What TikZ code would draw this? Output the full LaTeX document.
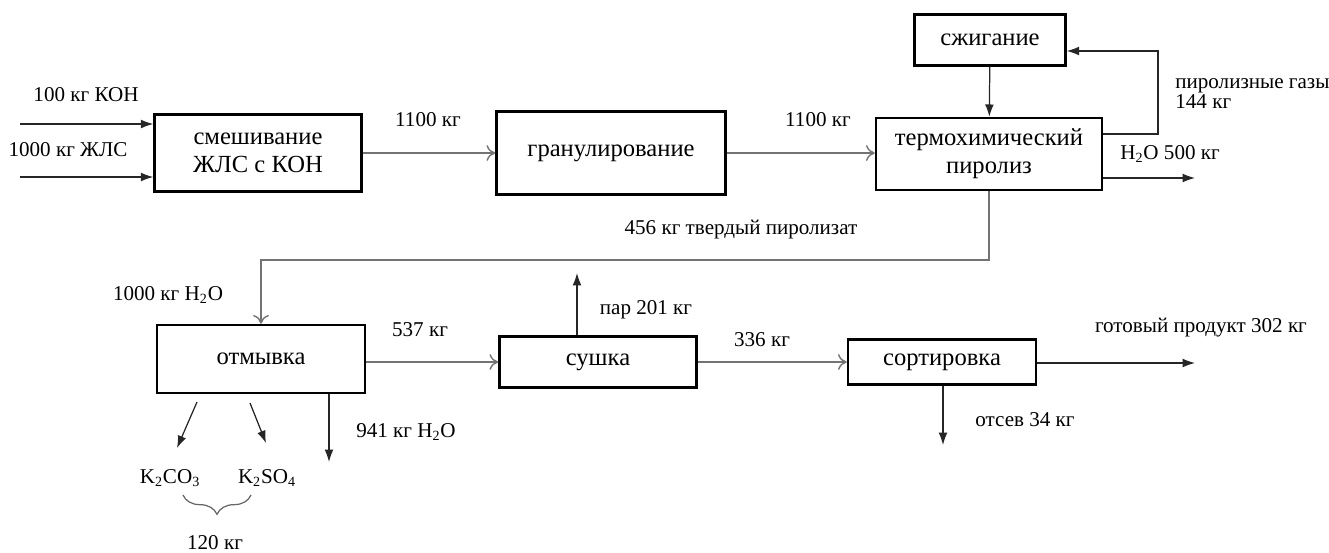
\documentclass[tikz,border=0pt]{standalone}
\usepackage{fontspec}
\setmainfont{Liberation Serif}
\usetikzlibrary{arrows.meta,decorations.pathreplacing}

\begin{document}
\begin{tikzpicture}[x=0.02cm,y=-0.02cm,
  box/.style={draw,line width=1.4pt,align=center,inner sep=0pt,font=\fontsize{14}{16}\selectfont},
  lbl/.style={inner sep=0pt,font=\fontsize{12}{14}\selectfont},
  flow/.style={draw=black!55,line width=0.8pt,-{To[length=5pt,width=9pt]}},
  outflow/.style={draw=black!85,line width=0.7pt,-{Latex[length=7pt,width=5pt]}}]
\useasboundingbox (0,0) rectangle (1329,552);
% process blocks
\node[box,minimum width=4.14cm,minimum height=1.54cm] (mix) at (258,153) {смешивание\\ЖЛС с КОН};
\node[box,minimum width=4.58cm,minimum height=1.66cm] (gran) at (611,153) {гранулирование};
\node[box,minimum width=4.52cm,minimum height=1.44cm] (pyro) at (989,154) {термохимический\\пиролиз};
\node[box,minimum width=3.02cm,minimum height=1.02cm] (burn) at (990,40) {сжигание};
\node[box,minimum width=4.16cm,minimum height=1.36cm] (wash) at (261,359) {отмывка};
\node[box,minimum width=3.94cm,minimum height=1.02cm] (dry) at (598,362) {сушка};
\node[box,minimum width=3.76cm,minimum height=0.9cm] (sort) at (942,362) {сортировка};
% free ends
\coordinate (koh) at (20,124);
\coordinate (jls) at (20,177);
\coordinate (gasturn) at (1158,51);
\coordinate (waterout) at (1195,178);
\coordinate (solidturn) at (261,260);
\coordinate (steam) at (577,273);
\coordinate (product) at (1195,363);
\coordinate (screen) at (943,445);
\coordinate (salt1a) at (197,402);
\coordinate (salt1b) at (177,448);
\coordinate (salt2a) at (250,403);
\coordinate (salt2b) at (266,443);
\coordinate (washwater) at (329,462);
% connectors
\draw[outflow] (koh) -- (mix.west |- koh);
\draw[outflow] (jls) -- (mix.west |- jls);
\draw[flow] (mix) -- (gran);
\draw[flow] (gran.east) -- (pyro.west |- gran.east);
\draw[outflow] (burn) -- (pyro);
\draw[outflow] ([yshift=0.4cm]pyro.east) -| (gasturn) -- (burn.east |- gasturn);
\draw[outflow] (pyro.east |- waterout) -- (waterout);
\draw[flow] (pyro.south) |- (solidturn) -- (wash.north);
\draw[flow] (wash.east |- dry.west) -- (dry.west);
\draw[outflow] (dry.north -| steam) -- (steam);
\draw[flow] (dry) -- (sort);
\draw[outflow] (sort.east |- product) -- (product);
\draw[outflow] (sort.south -| screen) -- (screen);
\draw[outflow] (salt1a) -- (salt1b);
\draw[outflow] (salt2a) -- (salt2b);
\draw[outflow] (wash.south -| washwater) -- (washwater);
% labels
\node[lbl] (lkoh) at (86,95) {100 кг КОН};
\node[lbl] (ljls) at (68,150) {1000 кг ЖЛС};
\node[lbl] (lmix) at (428,120) {1100 кг};
\node[lbl] (lgran) at (818,120) {1100 кг};
\node[lbl,anchor=west] (lgas) at (1175,86) {пиролизные газы};
\node[lbl,anchor=west] (lgasm) at (1175,102) {144 кг};
\node[lbl,anchor=west] (lwater) at (1120,154) {H\textsubscript{2}O 500 кг};
\node[lbl] (lsolid) at (741,230) {456 кг твердый пиролизат};
\node[lbl] (lwash) at (168,295) {1000 кг H\textsubscript{2}O};
\node[lbl] (ldry) at (420,330) {537 кг};
\node[lbl] (lsteam) at (646,310) {пар 201 кг};
\node[lbl] (lsort) at (762,340) {336 кг};
\node[lbl] (lprod) at (1201,328) {готовый продукт 302 кг};
\node[lbl] (lscreen) at (1025,420) {отсев 34 кг};
\node[lbl] (lwaste) at (406,432) {941 кг H\textsubscript{2}O};
\node[lbl] (kco) at (170,478) {K\textsubscript{2}CO\textsubscript{3}};
\node[lbl] (kso) at (267,478) {K\textsubscript{2}SO\textsubscript{4}};
\draw[decorate,decoration={brace,mirror,amplitude=11pt},draw=black!60,line width=0.7pt] (183,495) -- (251,495);
\node[lbl] (lsalt) at (215,543) {120 кг};
\end{tikzpicture}
\end{document}
